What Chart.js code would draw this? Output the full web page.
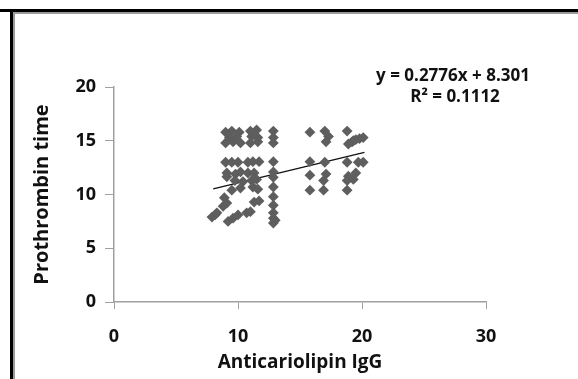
<!DOCTYPE html>
<html>
<head>
<meta charset="utf-8">
<script src="https://cdn.jsdelivr.net/npm/chart.js@4.4.0/dist/chart.umd.min.js"></script>
<style>
  html, body { margin: 0; padding: 0; background: #fff; }
  #wrap { position: relative; width: 578px; height: 379px; overflow: hidden; }
  #grafico { position: absolute; left: 0; top: 0; }
  .linhaTopo { position: absolute; left: 0; top: 9px; width: 578px; height: 3px; background: #000; }
  .sombraTopo { position: absolute; left: 13px; top: 12px; width: 565px; height: 2px; background: #9a9a9a; }
  .linhaEsq { position: absolute; left: 10px; top: 9px; width: 3px; height: 370px; background: #000; }
  .sombraEsq { position: absolute; left: 13px; top: 12px; width: 2px; height: 367px; background: #9a9a9a; }
</style>
</head>
<body>
<div id="wrap">
  <canvas id="grafico" width="578" height="379"></canvas>
  <div class="linhaTopo"></div>
  <div class="sombraTopo"></div>
  <div class="linhaEsq"></div>
  <div class="sombraEsq"></div>
</div>
<script>
    // Anticardiolipin IgG (x) vs Prothrombin time (y)
    var igg = [
        9.0, 9.5, 10.1, 9.3, 9.9, 9.0, 9.6, 10.2,
        11.0, 11.5, 11.1, 11.6, 11.0, 11.6, 11.3,
        12.85, 12.85, 12.85,
        9.0, 9.5, 10.0, 10.8, 11.2, 11.7, 12.85,
        9.1, 9.8, 10.2, 10.8, 11.3, 12.85,
        9.1, 9.75, 11.1, 11.5, 12.85, 10.4,
        9.5, 10.2, 11.2, 11.6, 12.85,
        9.1, 8.9, 11.3, 11.7, 12.85,
        12.85, 12.85, 8.8,
        8.15, 7.9, 8.3, 9.2, 9.6, 10.0, 10.7, 11.0, 12.85, 12.85, 13.0,
        15.8, 17.0, 17.3, 17.1, 18.8,
        18.9, 19.2, 19.5, 19.8, 20.1, 19.3,
        15.8, 17.0, 18.8, 19.7, 20.1,
        15.8, 17.1, 18.9, 19.5,
        16.9, 18.8, 19.3,
        15.8, 16.9, 18.8
    ];
    var tp = [
        15.8, 15.9, 15.8, 15.3, 15.4, 14.8, 14.9, 14.8,
        15.9, 16.0, 15.4, 15.3, 14.8, 14.9, 15.6,
        15.9, 15.3, 14.8,
        13.0, 13.0, 13.0, 13.0, 13.05, 13.05, 13.05,
        12.0, 11.9, 12.1, 12.0, 12.0, 12.1,
        11.65, 11.3, 11.3, 11.4, 11.6, 11.2,
        10.4, 10.6, 10.7, 10.5, 10.7,
        9.2, 9.7, 9.3, 9.4, 9.8,
        9.0, 8.3, 8.9,
        8.1, 7.9, 8.3, 7.5, 7.8, 8.1, 8.3, 8.4, 7.8, 7.35, 7.6,
        15.8, 15.9, 15.4, 14.9, 15.9,
        14.7, 14.9, 15.1, 15.2, 15.3, 15.0,
        13.05, 13.0, 13.0, 13.0, 13.0,
        11.8, 11.9, 11.7, 12.0,
        11.3, 11.3, 11.4,
        10.4, 10.4, 10.4
    ];

    // linha de tendencia (regressao do Excel)
    var inclinacao = 0.2776;
    var intercepto = 8.301;
    var tendX = [8.0, 20.2];

    var xTicks = [0, 10, 20, 30];
    var yTicks = [0, 5, 10, 15, 20];
    var textoEq = ['y = 0.2776x + 8.301', 'R² = 0.1112'];

    var pontos = igg.map(function(v, i) { return {x: v, y: tp[i]}; });
    var tendencia = tendX.map(function(v) { return {x: v, y: inclinacao * v + intercepto}; });

    var fonte = "'Open Sans'";
    var corTexto = '#111';
    var corEixo = '#a0a0a0';

    const equacao = {
        id: 'equacao',
        afterDraw(chart) {
            const ctx = chart.ctx;
            ctx.save();
            ctx.fillStyle = corTexto;
            ctx.font = 'bold 17px ' + fonte;
            ctx.textAlign = 'center';
            ctx.textBaseline = 'middle';
            ctx.fillText(textoEq[0], 453, 76);
            ctx.fillText(textoEq[1], 455, 97);
            ctx.restore();
        }
    };

    const ctx = document.getElementById('grafico').getContext('2d');
    new Chart(ctx, {
        type: 'scatter',
        data: {
            datasets: [{
                data: pontos,
                pointStyle: 'rectRot',
                pointRadius: 5.4,
                pointBorderWidth: 0,
                backgroundColor: '#5e5e5e',
                borderColor: '#5e5e5e'
            }, {
                type: 'line',
                data: tendencia,
                borderColor: '#111',
                borderWidth: 1.3,
                pointRadius: 0,
                fill: false
            }]
        },
        plugins: [equacao],
        options: {
            responsive: false,
            animation: false,
            layout: { padding: { left: 20, right: 92, top: 87, bottom: 0 } },
            plugins: { legend: { display: false }, tooltip: { enabled: false } },
            scales: {
                x: {
                    type: 'linear',
                    min: 0, max: 30,
                    afterBuildTicks: function(s) { s.ticks = xTicks.map(function(v) { return {value: v}; }); },
                    afterFit: function(s) { s.height = 77; },
                    grid: { drawOnChartArea: false, drawTicks: true, tickLength: 7, color: corEixo },
                    border: { display: true, color: corEixo, width: 1.5 },
                    ticks: { color: corTexto, padding: 17, font: { family: fonte, size: 18, weight: 'bold' } },
                    title: {
                        display: true,
                        text: 'Anticariolipin IgG',
                        color: corTexto,
                        padding: { top: 0, bottom: 5 },
                        font: { family: fonte, size: 19, weight: 'bold' }
                    }
                },
                y: {
                    min: 0, max: 20,
                    afterBuildTicks: function(s) { s.ticks = yTicks.map(function(v) { return {value: v}; }); },
                    afterFit: function(s) { s.width = 94; },
                    grid: { drawOnChartArea: false, drawTicks: true, tickLength: 9, color: corEixo },
                    border: { display: true, color: corEixo, width: 1.5 },
                    ticks: { color: corTexto, padding: 9, font: { family: fonte, size: 18, weight: 'bold' } },
                    title: {
                        display: true,
                        text: 'Prothrombin time',
                        color: corTexto,
                        padding: { top: 10, bottom: 0 },
                        font: { family: fonte, size: 20, weight: 'bold' }
                    }
                }
            }
        }
    });
</script>
</body>
</html>
